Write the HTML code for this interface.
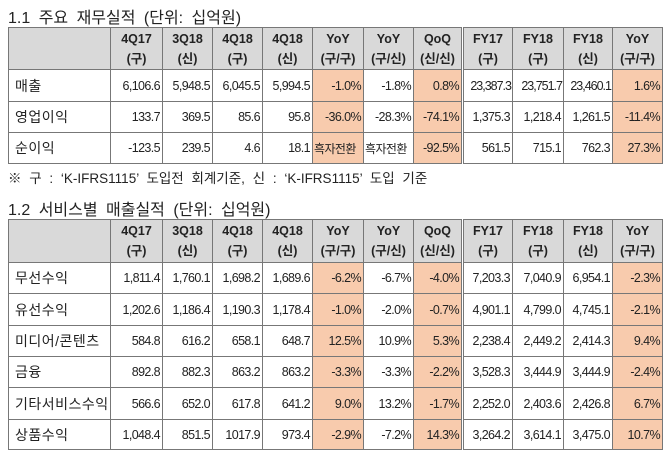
<!DOCTYPE html>
<html><head><meta charset="utf-8"><style>
body{margin:0;background:#fff;width:670px;height:456px;overflow:hidden;position:relative;font-family:"Liberation Sans","Noto Sans CJK KR",sans-serif;color:#222}
.t{position:absolute;left:8px;font-size:16px;white-space:nowrap;word-spacing:4px}
table{position:absolute;left:8px;border-collapse:collapse;table-layout:fixed;font-size:12.5px;letter-spacing:-0.6px}
td{border:1px solid #777;padding:0 2px;text-align:right;white-space:nowrap;overflow:hidden}
td.l{text-align:left;padding-left:6px;font-size:14px;letter-spacing:0.5px}
tr.h td{background:#d9d9d9;text-align:center;font-weight:bold;line-height:20px;font-size:12.5px;letter-spacing:0}
.o{background:#f8cbad}
.d{border-left:3px double #777}
.n{padding:0 1px;letter-spacing:-1px}
</style></head><body>
<div class="t" style="top:4px">1.1 주요 재무실적 (단위: 십억원)</div>
<table style="top:27px;width:654px">
<colgroup><col style="width:102px"><col style="width:52px"><col style="width:50px"><col style="width:50px"><col style="width:50px"><col style="width:51px"><col style="width:50px"><col style="width:49px"><col style="width:50px"><col style="width:51px"><col style="width:49px"><col style="width:50px"></colgroup>
<tr class="h" style="height:42px"><td></td><td>4Q17<br>(구)</td><td>3Q18<br>(신)</td><td>4Q18<br>(구)</td><td>4Q18<br>(신)</td><td>YoY<br>(구/구)</td><td>YoY<br>(구/신)</td><td>QoQ<br>(신/신)</td><td class="d">FY17<br>(구)</td><td>FY18<br>(구)</td><td>FY18<br>(신)</td><td>YoY<br>(구/구)</td></tr>
<tr style="height:32px"><td class="l">매출</td><td>6,106.6</td><td>5,948.5</td><td>6,045.5</td><td>5,994.5</td><td class="o">-1.0%</td><td>-1.8%</td><td class="o">0.8%</td><td class="d n">23,387.3</td><td class="n">23,751.7</td><td class="n">23,460.1</td><td class="o">1.6%</td></tr>
<tr style="height:31px"><td class="l">영업이익</td><td>133.7</td><td>369.5</td><td>85.6</td><td>95.8</td><td class="o">-36.0%</td><td>-28.3%</td><td class="o">-74.1%</td><td class="d">1,375.3</td><td>1,218.4</td><td>1,261.5</td><td class="o">-11.4%</td></tr>
<tr style="height:31px"><td class="l">순이익</td><td>-123.5</td><td>239.5</td><td>4.6</td><td>18.1</td><td class="o" style="text-align:left;font-size:12px;padding:0 1px">흑자전환</td><td style="text-align:left;font-size:12px;padding:0 1px">흑자전환</td><td class="o">-92.5%</td><td class="d">561.5</td><td>715.1</td><td>762.3</td><td class="o">27.3%</td></tr>
</table>
<div class="t" style="top:167px;font-size:13.5px">※ 구 : ‘K-IFRS1115’ 도입전 회계기준, 신 : ‘K-IFRS1115’ 도입 기준</div>
<div class="t" style="top:196px">1.2 서비스별 매출실적 (단위: 십억원)</div>
<table style="top:219px;width:654px">
<colgroup><col style="width:102px"><col style="width:52px"><col style="width:50px"><col style="width:50px"><col style="width:50px"><col style="width:51px"><col style="width:50px"><col style="width:49px"><col style="width:50px"><col style="width:51px"><col style="width:49px"><col style="width:50px"></colgroup>
<tr class="h" style="height:43px"><td></td><td>4Q17<br>(구)</td><td>3Q18<br>(신)</td><td>4Q18<br>(구)</td><td>4Q18<br>(신)</td><td>YoY<br>(구/구)</td><td>YoY<br>(구/신)</td><td>QoQ<br>(신/신)</td><td class="d">FY17<br>(구)</td><td>FY18<br>(구)</td><td>FY18<br>(신)</td><td>YoY<br>(구/구)</td></tr>
<tr style="height:31px"><td class="l">무선수익</td><td>1,811.4</td><td>1,760.1</td><td>1,698.2</td><td>1,689.6</td><td class="o">-6.2%</td><td>-6.7%</td><td class="o">-4.0%</td><td class="d">7,203.3</td><td>7,040.9</td><td>6,954.1</td><td class="o">-2.3%</td></tr>
<tr style="height:32px"><td class="l">유선수익</td><td>1,202.6</td><td>1,186.4</td><td>1,190.3</td><td>1,178.4</td><td class="o">-1.0%</td><td>-2.0%</td><td class="o">-0.7%</td><td class="d">4,901.1</td><td>4,799.0</td><td>4,745.1</td><td class="o">-2.1%</td></tr>
<tr style="height:31px"><td class="l">미디어/콘텐츠</td><td>584.8</td><td>616.2</td><td>658.1</td><td>648.7</td><td class="o">12.5%</td><td>10.9%</td><td class="o">5.3%</td><td class="d">2,238.4</td><td>2,449.2</td><td>2,414.3</td><td class="o">9.4%</td></tr>
<tr style="height:31px"><td class="l">금융</td><td>892.8</td><td>882.3</td><td>863.2</td><td>863.2</td><td class="o">-3.3%</td><td>-3.3%</td><td class="o">-2.2%</td><td class="d">3,528.3</td><td>3,444.9</td><td>3,444.9</td><td class="o">-2.4%</td></tr>
<tr style="height:32px"><td class="l">기타서비스수익</td><td>566.6</td><td>652.0</td><td>617.8</td><td>641.2</td><td class="o">9.0%</td><td>13.2%</td><td class="o">-1.7%</td><td class="d">2,252.0</td><td>2,403.6</td><td>2,426.8</td><td class="o">6.7%</td></tr>
<tr style="height:30px"><td class="l">상품수익</td><td>1,048.4</td><td>851.5</td><td>1017.9</td><td>973.4</td><td class="o">-2.9%</td><td>-7.2%</td><td class="o">14.3%</td><td class="d">3,264.2</td><td>3,614.1</td><td>3,475.0</td><td class="o">10.7%</td></tr>
</table>
</body></html>
